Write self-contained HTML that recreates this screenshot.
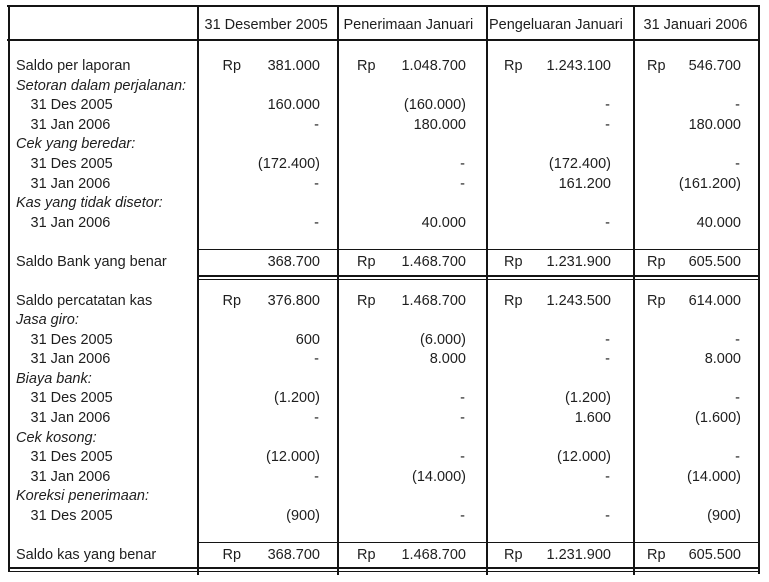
<!DOCTYPE html>
<html><head><meta charset="utf-8"><style>
html,body{margin:0;padding:0;background:#fff;}
#c{position:relative;width:769px;height:582px;overflow:hidden;background:#fff;font-family:"Liberation Sans",sans-serif;font-size:14.5px;color:#1e1e1e;}
#c div{position:absolute;}
.t{line-height:20px;white-space:nowrap;}
.h{background:#141414;}
.l{left:16px}.i{left:30.5px}.s{left:16px;font-style:italic}
.r1{right:449px}.r2{right:303px}.r3{right:158px}.r4{right:28px}
.d1{right:450px}.d2{right:304px}.d3{right:159px}.d4{right:29px}
.p1{left:222.5px}.p2{left:357px}.p3{left:504px}.p4{left:647px}
</style></head><body><div id="c">
<!-- lines -->
<div class="h" style="left:7px;top:5px;width:753px;height:2px"></div>
<div class="h" style="left:7px;top:39px;width:753px;height:2px"></div>
<div class="h" style="left:7.5px;top:5px;width:2px;height:567px"></div>
<div class="h" style="left:197.3px;top:5px;width:2px;height:570px"></div>
<div class="h" style="left:336.5px;top:5px;width:2px;height:570px"></div>
<div class="h" style="left:486px;top:5px;width:2px;height:570px"></div>
<div class="h" style="left:632.5px;top:5px;width:2px;height:570px"></div>
<div class="h" style="left:757.5px;top:5px;width:2px;height:569px"></div>
<div class="h" style="left:198px;top:248.5px;width:561px;height:1.5px"></div>
<div class="h" style="left:198px;top:275px;width:561px;height:1.6px"></div>
<div class="h" style="left:198px;top:278.6px;width:561px;height:1.6px"></div>
<div class="h" style="left:198px;top:541.6px;width:561px;height:1.5px"></div>
<div class="h" style="left:7.5px;top:567px;width:752px;height:1.6px"></div>
<div class="h" style="left:7.5px;top:570.5px;width:752px;height:1.6px"></div>

<!-- header -->
<div class="t" style="left:204.5px;top:15px">31 Desember 2005</div>
<div class="t" style="left:343.5px;top:15px">Penerimaan Januari</div>
<div class="t" style="left:489px;top:15px">Pengeluaran Januari</div>
<div class="t" style="left:643.5px;top:15px">31 Januari 2006</div>

<!-- section 1 -->
<div class="t l" style="top:56px">Saldo per laporan</div>
<div class="t p1" style="top:56px">Rp</div><div class="t r1" style="top:56px">381.000</div>
<div class="t p2" style="top:56px">Rp</div><div class="t r2" style="top:56px">1.048.700</div>
<div class="t p3" style="top:56px">Rp</div><div class="t r3" style="top:56px">1.243.100</div>
<div class="t p4" style="top:56px">Rp</div><div class="t r4" style="top:56px">546.700</div>

<div class="t s" style="top:75.6px">Setoran dalam perjalanan:</div>

<div class="t i" style="top:95.2px">31 Des 2005</div>
<div class="t r1" style="top:95.2px">160.000</div>
<div class="t r2" style="top:95.2px">(160.000)</div>
<div class="t d3" style="top:95.2px">-</div>
<div class="t d4" style="top:95.2px">-</div>

<div class="t i" style="top:114.8px">31 Jan 2006</div>
<div class="t d1" style="top:114.8px">-</div>
<div class="t r2" style="top:114.8px">180.000</div>
<div class="t d3" style="top:114.8px">-</div>
<div class="t r4" style="top:114.8px">180.000</div>

<div class="t s" style="top:134.4px">Cek yang beredar:</div>

<div class="t i" style="top:154px">31 Des 2005</div>
<div class="t r1" style="top:154px">(172.400)</div>
<div class="t d2" style="top:154px">-</div>
<div class="t r3" style="top:154px">(172.400)</div>
<div class="t d4" style="top:154px">-</div>

<div class="t i" style="top:173.6px">31 Jan 2006</div>
<div class="t d1" style="top:173.6px">-</div>
<div class="t d2" style="top:173.6px">-</div>
<div class="t r3" style="top:173.6px">161.200</div>
<div class="t r4" style="top:173.6px">(161.200)</div>

<div class="t s" style="top:193.2px">Kas yang tidak disetor:</div>

<div class="t i" style="top:212.8px">31 Jan 2006</div>
<div class="t d1" style="top:212.8px">-</div>
<div class="t r2" style="top:212.8px">40.000</div>
<div class="t d3" style="top:212.8px">-</div>
<div class="t r4" style="top:212.8px">40.000</div>

<div class="t l" style="top:252px">Saldo Bank yang benar</div>
<div class="t r1" style="top:252px">368.700</div>
<div class="t p2" style="top:252px">Rp</div><div class="t r2" style="top:252px">1.468.700</div>
<div class="t p3" style="top:252px">Rp</div><div class="t r3" style="top:252px">1.231.900</div>
<div class="t p4" style="top:252px">Rp</div><div class="t r4" style="top:252px">605.500</div>

<!-- section 2 -->
<div class="t l" style="top:290.7px">Saldo percatatan kas</div>
<div class="t p1" style="top:290.7px">Rp</div><div class="t r1" style="top:290.7px">376.800</div>
<div class="t p2" style="top:290.7px">Rp</div><div class="t r2" style="top:290.7px">1.468.700</div>
<div class="t p3" style="top:290.7px">Rp</div><div class="t r3" style="top:290.7px">1.243.500</div>
<div class="t p4" style="top:290.7px">Rp</div><div class="t r4" style="top:290.7px">614.000</div>

<div class="t s" style="top:310.2px">Jasa giro:</div>

<div class="t i" style="top:329.8px">31 Des 2005</div>
<div class="t r1" style="top:329.8px">600</div>
<div class="t r2" style="top:329.8px">(6.000)</div>
<div class="t d3" style="top:329.8px">-</div>
<div class="t d4" style="top:329.8px">-</div>

<div class="t i" style="top:349.3px">31 Jan 2006</div>
<div class="t d1" style="top:349.3px">-</div>
<div class="t r2" style="top:349.3px">8.000</div>
<div class="t d3" style="top:349.3px">-</div>
<div class="t r4" style="top:349.3px">8.000</div>

<div class="t s" style="top:368.9px">Biaya bank:</div>

<div class="t i" style="top:388.4px">31 Des 2005</div>
<div class="t r1" style="top:388.4px">(1.200)</div>
<div class="t d2" style="top:388.4px">-</div>
<div class="t r3" style="top:388.4px">(1.200)</div>
<div class="t d4" style="top:388.4px">-</div>

<div class="t i" style="top:408px">31 Jan 2006</div>
<div class="t d1" style="top:408px">-</div>
<div class="t d2" style="top:408px">-</div>
<div class="t r3" style="top:408px">1.600</div>
<div class="t r4" style="top:408px">(1.600)</div>

<div class="t s" style="top:427.5px">Cek kosong:</div>

<div class="t i" style="top:447.1px">31 Des 2005</div>
<div class="t r1" style="top:447.1px">(12.000)</div>
<div class="t d2" style="top:447.1px">-</div>
<div class="t r3" style="top:447.1px">(12.000)</div>
<div class="t d4" style="top:447.1px">-</div>

<div class="t i" style="top:466.6px">31 Jan 2006</div>
<div class="t d1" style="top:466.6px">-</div>
<div class="t r2" style="top:466.6px">(14.000)</div>
<div class="t d3" style="top:466.6px">-</div>
<div class="t r4" style="top:466.6px">(14.000)</div>

<div class="t s" style="top:486.2px">Koreksi penerimaan:</div>

<div class="t i" style="top:505.7px">31 Des 2005</div>
<div class="t r1" style="top:505.7px">(900)</div>
<div class="t d2" style="top:505.7px">-</div>
<div class="t d3" style="top:505.7px">-</div>
<div class="t r4" style="top:505.7px">(900)</div>

<div class="t l" style="top:544.5px">Saldo kas yang benar</div>
<div class="t p1" style="top:544.5px">Rp</div><div class="t r1" style="top:544.5px">368.700</div>
<div class="t p2" style="top:544.5px">Rp</div><div class="t r2" style="top:544.5px">1.468.700</div>
<div class="t p3" style="top:544.5px">Rp</div><div class="t r3" style="top:544.5px">1.231.900</div>
<div class="t p4" style="top:544.5px">Rp</div><div class="t r4" style="top:544.5px">605.500</div>
</div></body></html>
